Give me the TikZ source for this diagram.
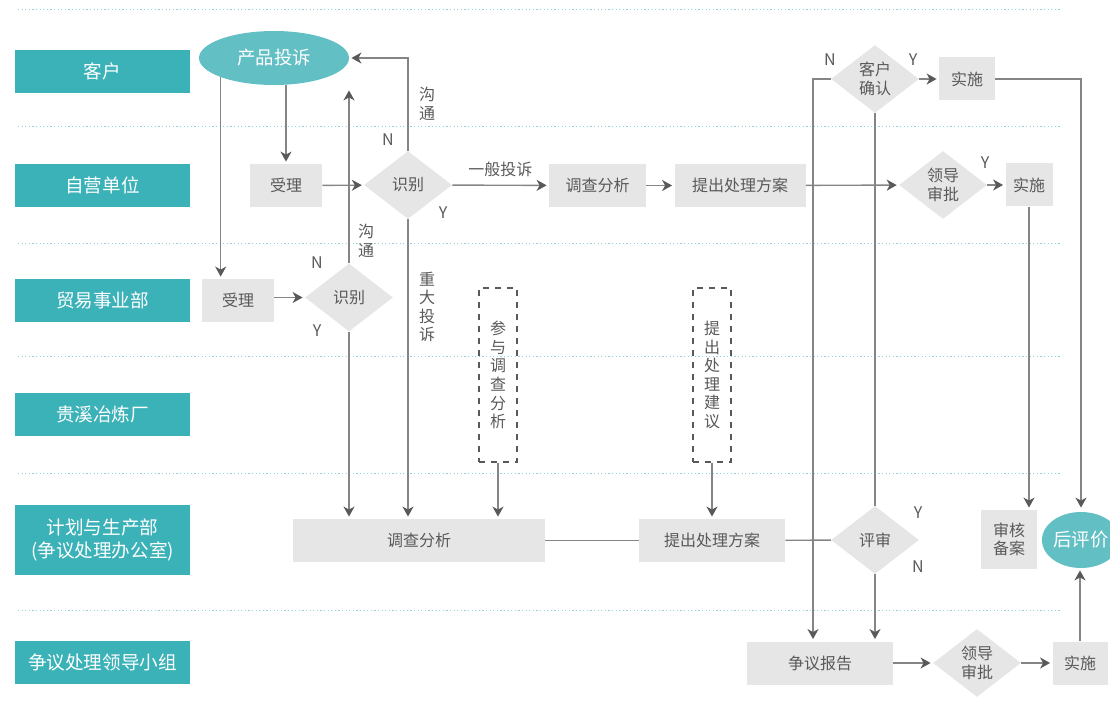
\documentclass[tikz,border=0pt]{standalone}
\usepackage{fontspec}
\usepackage{xcolor}
\usepackage{tikz}
\newfontfamily\cjk{Noto Sans CJK SC}
\usetikzlibrary{shapes.geometric,arrows.meta}
\definecolor{lane}{HTML}{3BB1B8}
\definecolor{oval}{HTML}{62BFC4}
\definecolor{boxgray}{HTML}{E6E6E6}
\definecolor{txt}{HTML}{595959}
\definecolor{linegray}{HTML}{858585}
\definecolor{sep}{HTML}{8ED5DA}

\begin{document}
\begin{tikzpicture}[x=0.5pt,y=-0.5pt,
  every node/.style={font=\cjk\fontsize{8}{9.3}\selectfont,text=txt,inner sep=0pt},
  lanebox/.style={fill=lane,text=white,minimum width=87.5pt,minimum height=21.5pt,align=center,font=\cjk\fontsize{9.3}{11.5}\selectfont},
  stepbox/.style={fill=boxgray,minimum height=21.5pt},
  ask/.style={diamond,aspect=1.3,fill=boxgray,minimum width=44pt,minimum height=34pt,align=center},
  oval/.style={ellipse,fill=oval,text=white,font=\cjk\fontsize{9.2}{11}\selectfont},
  note/.style={draw=txt,dashed,line width=0.6pt,minimum width=19pt,minimum height=87pt,align=center},
  flow/.style={draw=linegray,line width=0.7pt,shorten >=1pt,-{Stealth[length=5pt,width=5.5pt,inset=1.5pt,color=txt]}},
  wire/.style={draw=linegray,line width=0.7pt},
  yn/.style={font=\cjk\fontsize{8}{9}\selectfont}
]
\useasboundingbox (0,0) rectangle (1110,717);
%
\foreach \y in {10,127,244,356,473,610}
  \draw[sep,line width=0.5pt,dash pattern=on 0.6pt off 1.2pt] (18,\y) -- (1062,\y);
%
\node[lanebox] (kh) at (102.5,71.5) {客户};
\node[lanebox] (zy) at (102.5,185.5) {自营单位};
\node[lanebox] (my) at (102.5,300.5) {贸易事业部};
\node[lanebox] (gx) at (102.5,414.5) {贵溪冶炼厂};
\node[lanebox,minimum height=35pt] (jh) at (102.5,540) {计划与生产部\\(争议处理办公室)};
\node[lanebox] (ld) at (102.5,662) {争议处理领导小组};
%
\node[oval,minimum width=75pt,minimum height=27pt] (ts) at (274,58) {产品投诉};
\node[stepbox,minimum width=36pt] (sl1) at (286,185.5) {受理};
\node[ask] (sb1) at (408,185) {识别};
\node[stepbox,minimum width=36pt] (sl2) at (238,300.5) {受理};
\node[ask] (sb2) at (349,297.5) {识别};
\node[stepbox,minimum width=48.5pt] (dc1) at (597.5,185.5) {调查分析};
\node[stepbox,minimum width=65.5pt] (fa1) at (740,185.5) {提出处理方案};
\node[ask] (sp1) at (943,185) {领导\\审批};
\node[stepbox,minimum width=23.5pt] (ss1) at (1029,185) {实施};
\node[ask] (qr) at (875,79) {客户\\确认};
\node[stepbox,minimum width=28pt] (ss2) at (967,79) {实施};
\node[note] (cy) at (498,375) {参\\与\\调\\查\\分\\析};
\node[note] (jy) at (712,375) {提\\出\\处\\理\\建\\议};
\node[stepbox,minimum width=126pt] (dc2) at (419,540.5) {调查分析};
\node[stepbox,minimum width=73pt] (fa2) at (712,540.5) {提出处理方案};
\node[ask] (ps) at (875,540) {评审};
\node[stepbox,minimum width=28pt,minimum height=29.5pt,align=center] (ba) at (1009,539.5) {审核\\备案};
\node[oval,minimum width=38pt,minimum height=28pt] (hpj) at (1081,540) {后评价};
\node[stepbox,minimum width=73pt] (bg) at (820,663) {争议报告};
\node[ask] (sp2) at (977,663) {领导\\审批};
\node[stepbox,minimum width=27.5pt] (ss3) at (1080,663) {实施};
%
\node[yn] (n1) at (388,140) {N};
\node[yn] (y1) at (443,213) {Y};
\node[yn] (n2) at (317,263) {N};
\node[yn] (y2) at (317,331) {Y};
\node[yn] (n3) at (830,60) {N};
\node[yn] (y3) at (913,60) {Y};
\node[yn] (y4) at (985,163) {Y};
\node[yn] (y5) at (918,513) {Y};
\node[yn] (n5) at (918,567) {N};
\node[align=center] (gt1) at (427,104) {沟\\通};
\node[align=center] (gt2) at (366,241) {沟\\通};
\node[align=center] (zd) at (427,307) {重\\大\\投\\诉};
%
\draw[flow] (ts.south -| sl1) -- (sl1);
\draw[flow] (ts.south west) -- (ts.south west |- sl2.north);
\draw[flow] (sl1) -- (sb1);
\draw[flow] (sb1) -- node[above=4pt]{一般投诉} (dc1);
\draw[flow] (dc1) -- (fa1);
\draw[flow] (fa1) -- (sp1);
\draw[flow] (sp1) -- (ss1);
\draw[flow] (sb1.north) |- (ts.east);
\draw[flow] (sb1.south) -- (sb1.south |- dc2.north);
\draw[flow] (sl2.east |- sb2) -- (sb2.west);
\draw[flow,shorten >=2.5pt] (sb2.north) -- (sb2.north |- ts.south);
\draw[flow] (sb2.south) -- (sb2.south |- dc2.north);
\draw[flow] (cy) -- (cy |- dc2.north);
\draw[flow] (jy) -- (fa2);
\draw[wire] (dc2) -- (fa2);
\draw[wire] (fa2) -- (ps);
\draw[wire] (qr.south) -- (ps.north);
\draw[flow] (ps.south) -- (ps.south |- bg.north);
\draw[flow] (qr.west) -| ([xshift=-3.5pt]bg.north);
\draw[flow] (qr) -- (ss2);
\draw[flow,shorten >=2pt] (ss2.east) -| (hpj.north);
\draw[flow] (ss1.south) -- (ss1.south |- ba.north);
\draw[flow] (bg) -- (sp2);
\draw[flow] (sp2) -- (ss3);
\draw[flow] (ss3.north) -- (ss3.north |- hpj.south);
%
\end{tikzpicture}
\end{document}
